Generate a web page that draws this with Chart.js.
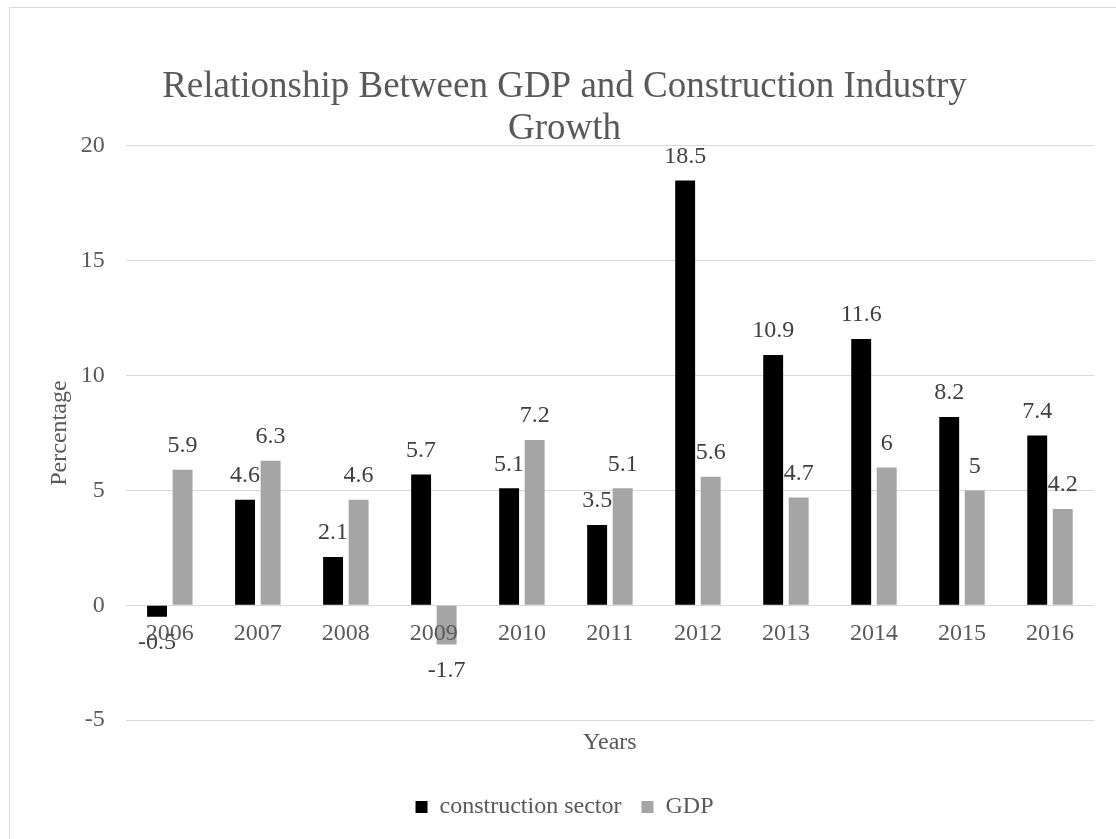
<!DOCTYPE html>
<html>
<head>
<meta charset="utf-8">
<script src="https://cdn.jsdelivr.net/npm/chart.js@4.4.1/dist/chart.umd.min.js"></script>
<style>
  html, body { margin: 0; padding: 0; background: #fff; overflow: hidden; }
  #frame {
    position: absolute; left: 9px; top: 7px;
    width: 1108px; height: 832px;
    border: 1px solid #D9D9D9;
  }
</style>
</head>
<body>
<div id="frame"><canvas id="growth_chart" width="1108" height="832"></canvas></div>
<script>
// Years on the x-axis
const years = ['2006', '2007', '2008', '2009', '2010', '2011', '2012', '2013', '2014', '2015', '2016'];

// Growth rates in percent
const construction = [-0.5, 4.6, 2.1, 5.7, 5.1, 3.5, 18.5, 10.9, 11.6, 8.2, 7.4];
const gdp = [5.9, 6.3, 4.6, -1.7, 7.2, 5.1, 5.6, 4.7, 6, 5, 4.2];

const serif = "'Liberation Serif', 'Times New Roman', serif";
const textGray = '#595959';

// Draws the value above (or below, when negative) each bar.
const barValuePlugin = {
  id: 'barValues',
  afterDatasetsDraw(chart) {
    const ctx = chart.ctx;
    ctx.save();
    ctx.font = '24px ' + serif;
    ctx.fillStyle = '#404040';
    ctx.textAlign = 'center';
    ctx.textBaseline = 'middle';
    chart.data.datasets.forEach((ds, i) => {
      const meta = chart.getDatasetMeta(i);
      meta.data.forEach((bar, j) => {
        const v = ds.data[j];
        const y = v < 0 ? bar.y + 26 : bar.y - 24;
        ctx.fillText(String(v), bar.x, y);
      });
    });
    ctx.restore();
  }
};

const chart = new Chart(document.getElementById('growth_chart'), {
  type: 'bar',
  data: {
    labels: years,
    datasets: [
      {
        label: 'construction sector',
        data: construction,
        backgroundColor: '#000000',
        barPercentage: 0.78,
        categoryPercentage: 0.58
      },
      {
        label: 'GDP',
        data: gdp,
        backgroundColor: '#A5A5A5',
        barPercentage: 0.78,
        categoryPercentage: 0.58
      }
    ]
  },
  options: {
    responsive: false,
    animation: false,
    layout: {
      padding: { left: 25, right: 24, top: 0, bottom: 11 }
    },
    plugins: {
      title: {
        display: true,
        text: ['Relationship Between GDP and Construction Industry', 'Growth'],
        color: textGray,
        font: { family: serif, size: 37, weight: 'normal', lineHeight: 1.135 },
        padding: { top: 58, bottom: -4 }
      },
      legend: {
        position: 'bottom',
        labels: {
          color: textGray,
          font: { family: serif, size: 24 },
          boxWidth: 12,
          boxHeight: 12,
          padding: 20
        }
      },
      tooltip: { enabled: false }
    },
    scales: {
      x: {
        type: 'category',
        position: { y: 0 },
        grid: { display: false },
        border: { display: false },
        ticks: {
          z: 1,
          color: textGray,
          font: { family: serif, size: 24 },
          padding: 6,
          maxRotation: 0
        }
      },
      x2: {
        type: 'category',
        position: 'bottom',
        grid: { display: false },
        border: { display: false },
        ticks: { display: false },
        title: {
          display: true,
          text: 'Years',
          color: textGray,
          font: { family: serif, size: 24 },
          padding: { top: 0, bottom: 18 }
        }
      },
      y: {
        min: -5,
        max: 20,
        grid: { color: '#D9D9D9', drawTicks: false },
        border: { display: false },
        ticks: {
          stepSize: 5,
          color: textGray,
          font: { family: serif, size: 24 },
          padding: 21
        },
        title: {
          display: true,
          text: 'Percentage',
          color: textGray,
          font: { family: serif, size: 24 },
          padding: { top: 10, bottom: -14 }
        }
      }
    }
  },
  plugins: [barValuePlugin]
});
</script>
</body>
</html>
